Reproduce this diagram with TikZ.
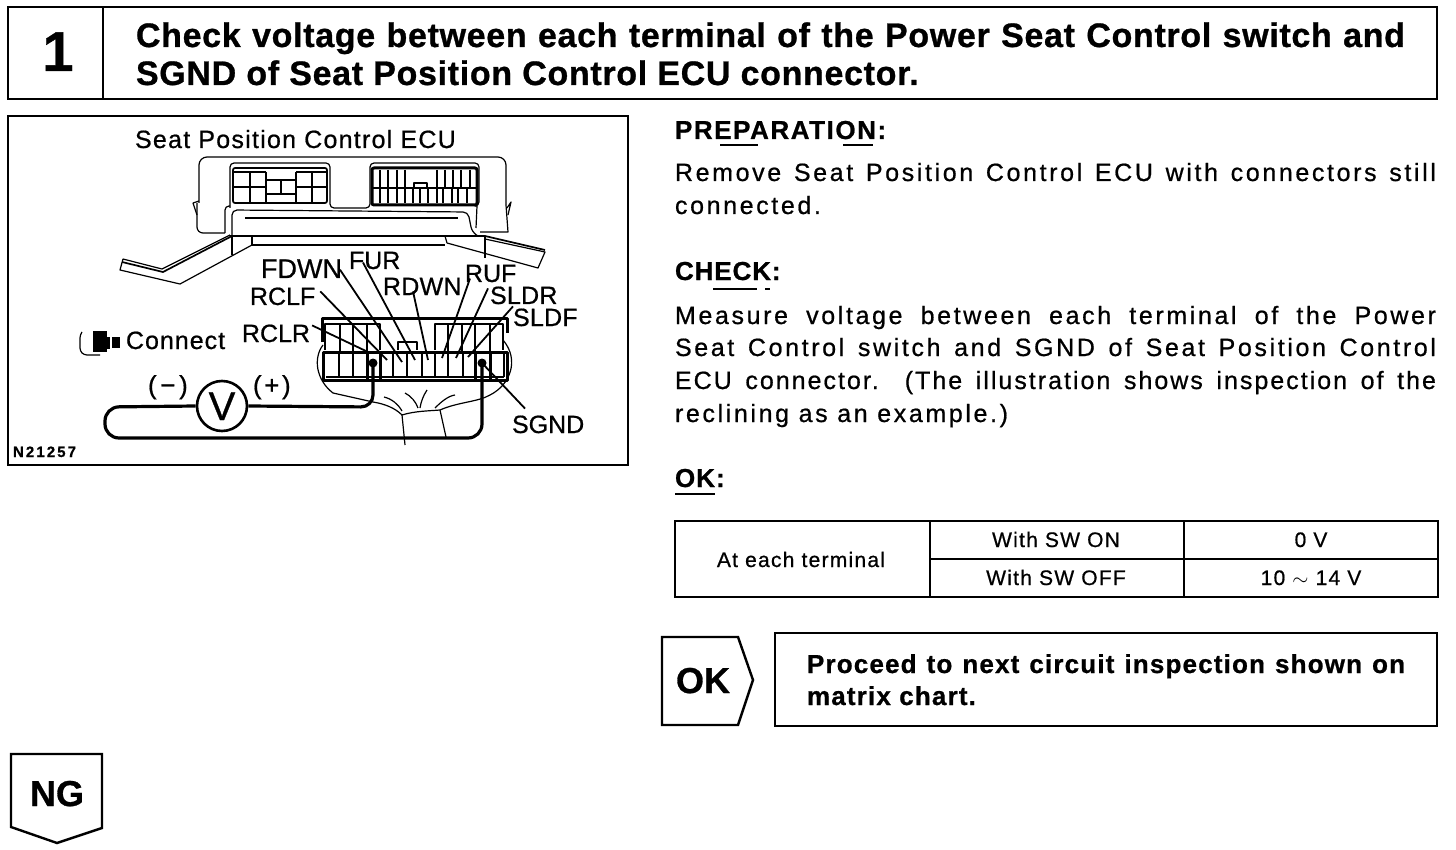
\documentclass[tikz,border=0pt]{standalone}
\usepackage{fontspec}
\setmainfont{Liberation Sans}
\newcommand{\ft}[3]{{\fontsize{#1pt}{#1pt}\selectfont\addfontfeature{LetterSpace=#2,FakeBold=0.7}#3}}
\newcommand{\bft}[3]{{\fontsize{#1pt}{#1pt}\selectfont\bfseries\addfontfeature{LetterSpace=#2,FakeBold=0.8}#3}}
\newcommand{\jl}[2]{\makebox[#1pt][s]{#2}}
\tikzset{
  txt/.style={inner sep=0pt,outer sep=0pt,anchor=base west},
  ctr/.style={inner sep=0pt,outer sep=0pt,anchor=base},
  frame/.style={line width=2.4pt,line join=miter},
  rule/.style={line width=2pt},
  thin part/.style={line width=1.2pt,line join=round},
  mid part/.style={line width=1.7pt,line join=round},
  thick part/.style={line width=3pt,line join=round},
  leader/.style={line width=1.8pt},
  probe/.style={line width=3.2pt,line join=round}
}
\begin{document}
\begin{tikzpicture}[x=1pt,y=-1pt]
\fill[white] (0,0) rectangle (1456,850);
\useasboundingbox (0,0) rectangle (1456,850);
% header
\draw[frame] (8,7) rectangle (1437,99);
\draw[rule] (103,7) -- (103,99);
\node[ctr] (num) at (58,71) {\bft{56}{0}{1}};
\node[txt] (t1) at (136,47) {\jl{1269}{\bft{34}{2}{Check voltage between each terminal of the Power Seat Control switch and}}};
\node[txt] (t2) at (136,85) {\bft{34}{2}{SGND of Seat Position Control ECU connector.}};
% illustration frame
\draw[frame] (8,116) rectangle (628,465);
\node[txt] (ecu) at (135,148) {\ft{25}{5}{Seat Position Control ECU}};
% ECU body
\draw[thin part,rounded corners=6pt] (225,233) -- (197,233) -- (197,203);
\draw[thin part,rounded corners=8pt] (199,203) -- (199,157) -- (506,157) -- (506,205);
\draw[thin part] (197,215) -- (193,203) -- (199,201);
\draw[thin part] (506,205) -- (508,232) -- (480,232);
\draw[thin part] (508,215) -- (511,202) -- (507,208);
\draw[thin part,rounded corners=4pt] (225,233) -- (225,206) -- (230,206);
\draw[thin part,rounded corners=4pt] (230,208) -- (230,163) -- (330,163) -- (330,208) -- (370,208) -- (370,163) -- (479,163) -- (479,206) -- (477,206);
\draw[thin part,rounded corners=5pt] (232,236) -- (232,210) -- (468,212) -- (472,232) -- (478,236);
\draw[thin part] (477,206) -- (476,228);
\draw[thin part] (245,218) -- (458,218);
\draw[mid part] (230,236) -- (485,236);
\draw[thin part] (252,245) -- (445,245);
% flanges
\draw[mid part] (232,236) -- (163,272) -- (122,262);
\draw[thin part] (230,235) -- (162,269) -- (123,259) -- (120,270) -- (180,284) -- (252,245);
\draw[thin part] (232,236) -- (232,255);
\draw[thin part] (252,236) -- (252,245);
\draw[mid part] (485,236) -- (545,250);
\draw[thin part] (485,239) -- (545,252) -- (538,268) -- (447,243) -- (445,236);
\draw[thin part] (485,237) -- (485,258);
% left socket
\draw[mid part,rounded corners=2pt] (233,168) rectangle (327,203);
\draw[mid part] (233,172) -- (266,172) (296,172) -- (327,172);
\draw[mid part] (233,187) -- (266,187) (296,187) -- (327,187);
\foreach \vx in {250,266,296,312} \draw[mid part] (\vx,172) -- (\vx,202);
\draw[mid part] (266,180) -- (296,180) (266,194) -- (296,194);
\draw[thin part] (281,180) -- (281,194);
% right socket
\draw[thick part,rounded corners=2pt] (372,168) rectangle (477,205);
\draw[mid part] (372,188) -- (477,188);
\foreach \vx in {380,388,397,405,437,445,453,461,470} \draw[thin part] (\vx,170) -- (\vx,188);
\foreach \vx in {380,388,397,405,413,420,428,437,443,452,458,467} \draw[thin part] (\vx,188) -- (\vx,203);
\draw[thin part] (414,188) -- (414,183) -- (427,183) -- (427,188);
% lower connector
\draw[thick part] (322,342) -- (322,318) -- (507,318) -- (507,333);
\draw[thin part] (325,350) -- (325,324) -- (380,324) -- (380,350);
\foreach \vx in {340,353,367} \draw[thin part] (\vx,324) -- (\vx,352);
\draw[thin part] (435,350) -- (435,324) -- (503,324) -- (503,350);
\foreach \vx in {448,462,475,490} \draw[thin part] (\vx,324) -- (\vx,352);
\draw[thin part] (398,350) -- (398,342) -- (417,342) -- (417,350);
\draw[thick part] (323,380) -- (323,352) -- (507,352) -- (507,380) -- cycle;
\draw[thin part] (326,377) -- (504,377);
\foreach \vx in {339,353,393,407,422,435,448,463,504} \draw[thin part] (\vx,352) -- (\vx,377);
\draw[thick part] (367,352) -- (367,379) (380,352) -- (380,379) (475,352) -- (475,379) (490,352) -- (490,379);
% harness
\draw[thin part] (323,345) .. controls (313,358) and (316,380) .. (333,393) -- (373,402) .. controls (385,404) and (395,408) .. (402,415) .. controls (415,411) and (428,411) .. (440,410) .. controls (458,402) and (478,402) .. (490,395) .. controls (510,385) and (520,360) .. (503,340);
\draw[thin part] (402,415) -- (405,445);
\draw[thin part] (440,410) -- (446,437);
\draw[thin part] (384,397) .. controls (392,399) and (398,404) .. (402,411);
\draw[thin part] (405,393) .. controls (411,396) and (416,402) .. (418,408);
\draw[thin part] (427,390) .. controls (423,396) and (421,402) .. (420,408);
\draw[thin part] (455,395) .. controls (448,396) and (441,402) .. (435,408);
% labels and leaders
\node[txt] (fdwn) at (261,278) {\ft{27}{0}{FDWN}};
\node[txt] (fur) at (349,269) {\ft{25}{0}{FUR}};
\node[txt] (rdwn) at (383,295) {\ft{25}{1}{RDWN}};
\node[txt] (ruf) at (465,282) {\ft{25}{0}{RUF}};
\node[txt] (sldr) at (490,304) {\ft{25}{1}{SLDR}};
\node[txt] (sldf) at (513,326) {\ft{25}{1}{SLDF}};
\node[txt] (rclf) at (250,305) {\ft{25}{0}{RCLF}};
\node[txt] (rclr) at (242,342) {\ft{25}{0}{RCLR}};
\node[txt] (sgnd) at (512,433) {\ft{25}{0}{SGND}};
\coordinate (pRCLR) at (368,352);
\coordinate (pRCLF) at (387,360);
\coordinate (pFDWN) at (402,362);
\coordinate (pFUR) at (415,360);
\coordinate (pRDWN) at (428,360);
\coordinate (pRUF) at (442,358);
\coordinate (pSLDR) at (456,358);
\coordinate (pSLDF) at (468,357);
\coordinate (dotA) at (373,363);
\coordinate (dotB) at (482,363);
\draw[leader] (rclr.east) ++(2,-8) -- (pRCLR);
\draw[leader] (rclf.east) ++(5,-5) -- (pRCLF);
\draw[leader] (fdwn.east) ++(-2,1) -- (pFDWN);
\draw[leader] (fur.west) ++(14,2) -- (pFUR);
\draw[leader] (rdwn.west) ++(30,5) -- (pRDWN);
\draw[leader] (ruf.west) ++(5,5) -- (pRUF);
\draw[leader] (sldr.west) ++(-2,-7) -- (pSLDR);
\draw[leader] (sldf.west) ++(0,-11) -- (pSLDF);
\draw[leader] (sgnd.north west) ++(13,-7) -- (dotB);
% meter
\node[circle,draw,line width=2.6pt,minimum size=50pt,inner sep=0pt] (volt) at (222,406) {};
\node[ctr] (vlet) at (222,420) {\ft{40}{0}{V}};
\node[txt] (minus) at (148,394) {\ft{26}{14}{(−)}};
\node[txt] (plus) at (253,394) {\ft{26}{10}{(+)}};
\draw[probe,rounded corners=12pt] (volt.east) -- (373,407) -- (dotA);
\draw[probe,rounded corners=14pt] (volt.west) -- (105,407) -- (105,438) -- (482,438) -- (dotB);
\fill (dotA) circle (4.5pt);
\fill (dotB) circle (4.5pt);
% connect icon
\draw[thin part,rounded corners=3pt] (82,332) -- (80,335) -- (80,351) -- (84,355) -- (100,355);
\fill (93,331) rectangle (107,352);
\fill (107,337) rectangle (110,349);
\fill (112,337) rectangle (120,348);
\node[txt] (conn) at (126,349) {\ft{25}{4}{Connect}};
\node[txt] (code) at (13,457) {\bft{15}{14}{N21257}};
% right column
\node[txt] (prep) at (675,139) {\bft{26}{6}{PREPARATION:}};
\draw[rule] (720,145) -- (758,145) (843,145) -- (873,145);
\node[txt] (p1) at (675,181) {\jl{761}{\ft{25}{10.5}{Remove Seat Position Control ECU with connectors still}}};
\node[txt] (p2) at (675,214) {\ft{25}{10.5}{connected.}};
\node[txt] (chk) at (675,280) {\bft{26}{3.5}{CHECK:}};
\draw[rule] (713,289) -- (757,289) (765,289) -- (770,289);
\node[txt] (m1) at (675,324) {\jl{761}{\ft{25}{10.5}{Measure voltage between each terminal of the Power}}};
\node[txt] (m2) at (675,356) {\jl{761}{\ft{25}{10.5}{Seat Control switch and SGND of Seat Position Control}}};
\node[txt] (m3) at (675,389) {\jl{761}{\ft{25}{8}{ECU connector. (The illustration shows inspection of the}}};
\node[txt] (m4) at (675,422) {\ft{25}{10.5}{reclining as an example.)}};
\node[txt] (okh) at (675,487) {\bft{26}{4}{OK:}};
\draw[rule] (675,494) -- (715,494);
% table
\draw[frame] (675,521) rectangle (1438,597);
\draw[rule] (930,521) -- (930,597) (1184,521) -- (1184,597) (930,559) -- (1438,559);
\node[ctr] (c1) at (801,567) {\ft{21}{6}{At each terminal}};
\node[ctr] (c2) at (1056,547) {\ft{21}{6}{With SW ON}};
\node[ctr] (c3) at (1056,585) {\ft{21}{6}{With SW OFF}};
\node[ctr] (c4) at (1311,547) {\ft{21}{6}{0 V}};
\node[ctr] (c5) at (1311,585) {\ft{21}{6}{10 $\sim$ 14 V}};
% OK
\draw[frame] (662,637) -- (738,637) -- (753,680) -- (738,725) -- (662,725) -- cycle;
\node[ctr] (oklab) at (703,693) {\bft{36}{0}{OK}};
\draw[frame] (775,633) rectangle (1437,726);
\node[txt] (pr1) at (807,673) {\jl{598}{\bft{26}{4.5}{Proceed to next circuit inspection shown on}}};
\node[txt] (pr2) at (807,705) {\bft{26}{4.5}{matrix chart.}};
% NG
\draw[frame] (11,754) -- (102,754) -- (102,828) -- (57,843) -- (11,827) -- cycle;
\node[ctr] (nglab) at (57,806) {\bft{36}{0}{NG}};
\end{tikzpicture}
\end{document}
